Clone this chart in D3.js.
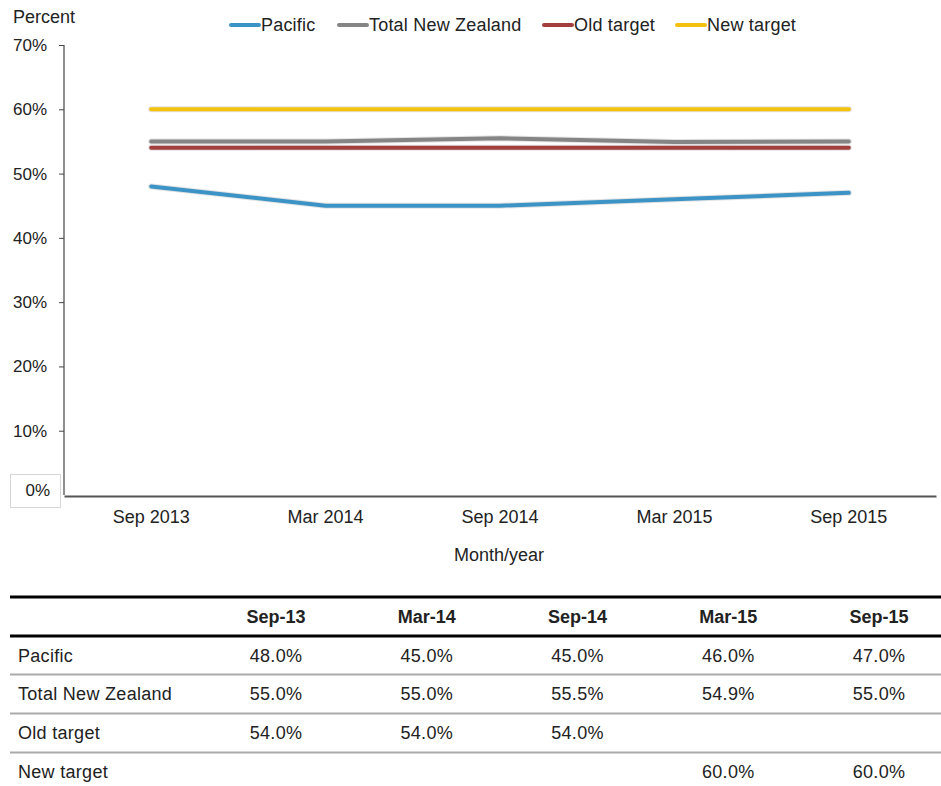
<!DOCTYPE html>
<html>
<head>
<meta charset="utf-8">
<script src="https://cdn.jsdelivr.net/npm/d3@7"></script>
<style>
  body { margin: 0; background: #fff; font-family: "Liberation Sans", Arial, sans-serif; }
  svg text { font-family: "Liberation Sans", Arial, sans-serif; fill: #222; }
</style>
</head>
<body>
<div id="container"></div>
<script>
// chart data
const periods = ["Sep 2013", "Mar 2014", "Sep 2014", "Mar 2015", "Sep 2015"];
const tablePeriods = ["Sep-13", "Mar-14", "Sep-14", "Mar-15", "Sep-15"];
const seriesNames = ["Pacific", "Total New Zealand", "Old target", "New target"];
const seriesColors = ["#3b93c6", "#858585", "#a23f3d", "#f4c20d"];
const pacific = [48.0, 45.0, 45.0, 46.0, 47.0];
const totalNZ = [55.0, 55.0, 55.5, 54.9, 55.0];
const oldTargetLine = [54, 54, 54, 54, 54];
const newTargetLine = [60, 60, 60, 60, 60];
// table values (blank where no target applied)
const oldTargetTable = [54.0, 54.0, 54.0, null, null];
const newTargetTable = [null, null, null, 60.0, 60.0];
const yTicks = [0, 10, 20, 30, 40, 50, 60, 70];

const w = 941;
const h = 786;

const svg = d3.select("#container")
              .append("svg")
              .attr("width", w)
              .attr("height", h);

// scales
const xScale = d3.scaleBand()
                 .domain(periods)
                 .range([64, 936]);
const yScale = d3.scaleLinear()
                 .domain([0, 70])
                 .range([495, 45]);

// legend
const legendX = [231, 339, 544, 677];
const legend = svg.selectAll(".legend")
                  .data(seriesNames)
                  .enter()
                  .append("g")
                  .attr("class", "legend")
                  .attr("transform", (d, i) => "translate(" + legendX[i] + ", 25)");
legend.append("line")
      .attr("x1", 0).attr("x2", 28)
      .attr("stroke", (d, i) => seriesColors[i])
      .attr("stroke-width", 4)
      .attr("stroke-linecap", "round");
legend.append("text")
      .attr("x", 30)
      .attr("y", 6)
      .style("font-size", "18px")
      .style("letter-spacing", "0.2px")
      .text(d => d);

// y axis
svg.append("text")
   .attr("x", 13)
   .attr("y", 23)
   .style("font-size", "18px")
   .text("Percent");

const yAxis = d3.axisLeft(yScale)
                .tickValues(yTicks.filter(t => t > 0))
                .tickFormat(d => d + "%")
                .tickSize(5)
                .tickPadding(12);
const gy = svg.append("g")
   .attr("transform", "translate(64, 0)")
   .call(yAxis);
gy.select(".domain").attr("stroke", "#444").attr("stroke-width", 1.2).attr("d", "M0," + yScale(70) + "V" + yScale(0));
gy.selectAll(".tick line").attr("stroke", "#444");
gy.selectAll(".tick text").style("font-size", "17px").attr("fill", "#222");

// the 0% label sits in a small box
svg.append("rect")
   .attr("x", 10.5).attr("y", 474.5)
   .attr("width", 50).attr("height", 33)
   .attr("fill", "#fff")
   .attr("stroke", "#d6d6d6");
svg.append("text")
   .attr("x", 50)
   .attr("y", yScale(0) + 1)
   .attr("text-anchor", "end")
   .style("font-size", "17px")
   .text(yTicks[0] + "%");

// x axis
const xAxis = d3.axisBottom(xScale).tickSize(0).tickPadding(14);
const gx = svg.append("g")
   .attr("transform", "translate(0, " + (yScale(0) + 1) + ")")
   .call(xAxis);
gx.select(".domain").attr("stroke", "#555").attr("stroke-width", 2);
gx.selectAll(".tick text").style("font-size", "18px").attr("fill", "#222");

svg.append("text")
   .attr("x", 499)
   .attr("y", 561)
   .attr("text-anchor", "middle")
   .style("font-size", "18px")
   .text("Month/year");

// lines
const chartSeries = [pacific, totalNZ, oldTargetLine, newTargetLine];
const line = d3.line()
               .x((d, i) => xScale(periods[i]) + xScale.bandwidth() / 2)
               .y(d => yScale(d));
const drawOrder = [3, 1, 2, 0];
drawOrder.forEach(function(k){
    svg.append("path")
       .attr("d", line(chartSeries[k]))
       .attr("fill", "none")
       .attr("stroke", "#d0d0d0")
       .attr("stroke-width", 6)
       .attr("stroke-linecap", "round")
       .attr("stroke-opacity", 0.6);
    svg.append("path")
       .attr("d", line(chartSeries[k]))
       .attr("fill", "none")
       .attr("stroke", seriesColors[k])
       .attr("stroke-width", 4)
       .attr("stroke-linecap", "round")
       .attr("stroke-linejoin", "round");
});

// table
const colX = d3.scalePoint()
               .domain(tablePeriods)
               .range([276, 879]);
const rowY = [656, 694, 733, 772];
const tableRows = [pacific, totalNZ, oldTargetTable, newTargetTable];
const fmt = d3.format(".1f");

svg.append("line").attr("x1", 10).attr("x2", 941).attr("y1", 597).attr("y2", 597)
   .attr("stroke", "#000").attr("stroke-width", 3);
svg.append("line").attr("x1", 10).attr("x2", 941).attr("y1", 636).attr("y2", 636)
   .attr("stroke", "#000").attr("stroke-width", 3);
[674.5, 713.5, 752.5].forEach(function(y){
    svg.append("line").attr("x1", 10).attr("x2", 941).attr("y1", y).attr("y2", y)
       .attr("stroke", "#aaa").attr("stroke-width", 2);
});

svg.selectAll(".thead")
   .data(tablePeriods)
   .enter()
   .append("text")
   .attr("class", "thead")
   .attr("x", d => colX(d))
   .attr("y", 623)
   .attr("text-anchor", "middle")
   .style("font-size", "18px")
   .style("font-weight", "bold")
   .attr("fill", "#000")
   .text(d => d);

seriesNames.forEach(function(name, r){
    svg.append("text")
       .attr("x", 18)
       .attr("y", rowY[r] + 6)
       .style("font-size", "18px")
       .style("letter-spacing", "0.3px")
       .attr("fill", "#000")
       .text(name);
    const cells = tableRows[r].map((v, i) => ({v: v, col: tablePeriods[i]}))
                              .filter(c => c.v != null);
    svg.selectAll(".cell" + r)
       .data(cells)
       .enter()
       .append("text")
       .attr("class", "cell" + r)
       .attr("x", c => colX(c.col))
       .attr("y", rowY[r] + 6)
       .attr("text-anchor", "middle")
       .style("font-size", "18px")
       .style("letter-spacing", "0.3px")
       .attr("fill", "#000")
       .text(c => fmt(c.v) + "%");
});
</script>
</body>
</html>
